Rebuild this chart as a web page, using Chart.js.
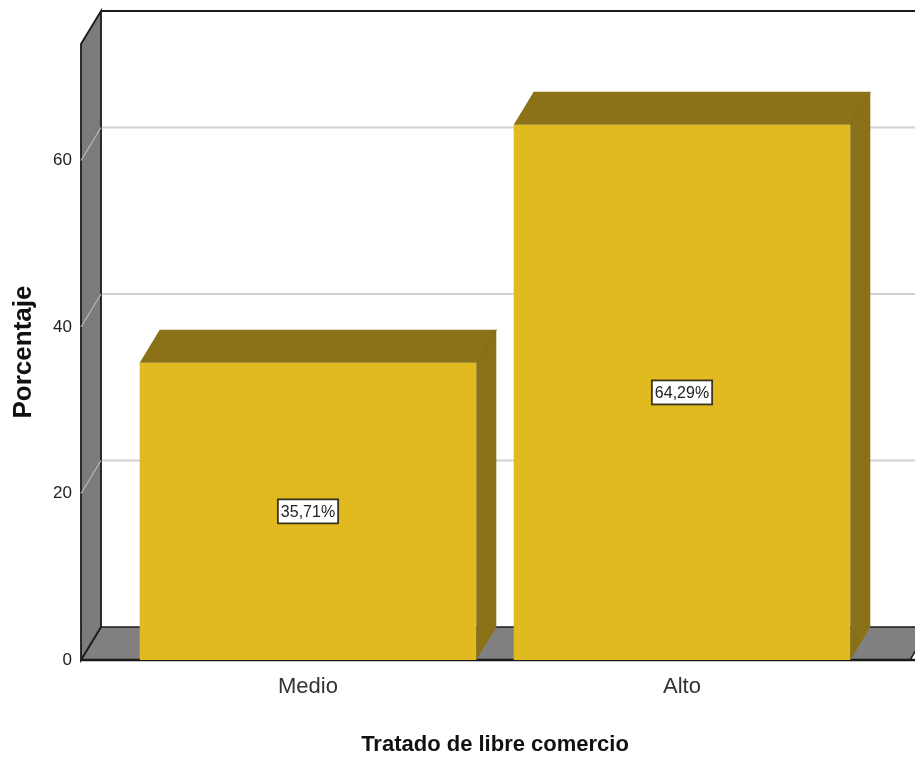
<!DOCTYPE html>
<html>
<head>
<meta charset="utf-8">
<script src="https://cdn.jsdelivr.net/npm/chart.js@4.4.1/dist/chart.umd.min.js"></script>
<style>
  html, body { margin: 0; padding: 0; background: #fff; overflow: hidden; }
  #wrap { width: 915px; height: 758px; }
</style>
</head>
<body>
<div id="wrap"><canvas id="chart"></canvas></div>
<script>
// datos
const categories = ['Medio', 'Alto'];
const percentages = [35.71, 64.29];
const yTicks = [0, 20, 40, 60];
const yMax = 74;

// colores
const barFront = '#E0BA1F';
const barTop = '#8B7218';
const barSide = '#8A7016';
const wallGray = '#7B7B7B';
const floorGray = '#808080';

// profundidad del efecto 3D
const DX = 20;
const DY = 33;
const WALL_OFFSET = 40; // pared izquierda respecto al área del gráfico

const fontFamily = 'Arial, "Liberation Sans", sans-serif';

// paredes, suelo y líneas de cuadrícula
const walls3d = {
  id: 'walls3d',
  beforeDatasetsDraw(chart) {
    const { ctx, chartArea, scales } = chart;
    const y = scales.y;
    const fx = chartArea.left - WALL_OFFSET;
    const bx = fx + DX;
    const yTopF = y.getPixelForValue(yMax);
    const y0 = y.getPixelForValue(0);
    const rightEdge = chart.width + 10;

    ctx.save();
    ctx.lineJoin = 'miter';

    // suelo
    ctx.beginPath();
    ctx.moveTo(fx, y0);
    ctx.lineTo(bx, y0 - DY);
    ctx.lineTo(rightEdge + 5, y0 - DY);
    ctx.lineTo(rightEdge - 15, y0);
    ctx.closePath();
    ctx.fillStyle = floorGray;
    ctx.fill();
    ctx.strokeStyle = '#1a1a1a';
    ctx.lineWidth = 1.5;
    ctx.stroke();
    ctx.beginPath();
    ctx.moveTo(fx, y0);
    ctx.lineTo(rightEdge, y0);
    ctx.lineWidth = 2.5;
    ctx.stroke();

    // pared izquierda
    ctx.beginPath();
    ctx.moveTo(fx, yTopF);
    ctx.lineTo(bx, yTopF - DY);
    ctx.lineTo(bx, y0 - DY);
    ctx.lineTo(fx, y0);
    ctx.closePath();
    ctx.fillStyle = wallGray;
    ctx.fill();
    ctx.lineWidth = 1.8;
    ctx.stroke();

    // borde superior de la pared del fondo
    ctx.beginPath();
    ctx.moveTo(bx, yTopF - DY);
    ctx.lineTo(rightEdge, yTopF - DY);
    ctx.stroke();

    // cuadrícula
    y.ticks.forEach(t => {
      if (t.value === 0) return;
      const py = y.getPixelForValue(t.value);
      ctx.beginPath();
      ctx.moveTo(fx, py);
      ctx.lineTo(bx, py - DY);
      ctx.strokeStyle = '#b8b8b8';
      ctx.lineWidth = 1.2;
      ctx.stroke();
      ctx.beginPath();
      ctx.moveTo(bx + 1, py - DY);
      ctx.lineTo(rightEdge, py - DY);
      ctx.strokeStyle = '#d2d2d2';
      ctx.lineWidth = 2;
      ctx.stroke();
    });
    ctx.restore();
  },
  afterDatasetsDraw(chart) {
    const { ctx } = chart;
    const meta = chart.getDatasetMeta(0);
    ctx.save();
    meta.data.forEach((bar, i) => {
      const half = bar.width / 2;
      const x0 = bar.x - half;
      const x1 = bar.x + half;
      const top = bar.y;
      const base = bar.base;

      // cara superior
      ctx.beginPath();
      ctx.moveTo(x0, top);
      ctx.lineTo(x0 + DX, top - DY);
      ctx.lineTo(x1 + DX, top - DY);
      ctx.lineTo(x1, top);
      ctx.closePath();
      ctx.fillStyle = barTop;
      ctx.fill();

      // cara lateral
      ctx.beginPath();
      ctx.moveTo(x1, top);
      ctx.lineTo(x1 + DX, top - DY);
      ctx.lineTo(x1 + DX, base - DY);
      ctx.lineTo(x1, base);
      ctx.closePath();
      ctx.fillStyle = barSide;
      ctx.fill();

      ctx.beginPath();
      ctx.moveTo(x1, top);
      ctx.lineTo(x1 + DX, top - DY);
      ctx.strokeStyle = '#7a6414';
      ctx.lineWidth = 1;
      ctx.stroke();

      // etiqueta del valor
      const txt = percentages[i].toFixed(2).replace('.', ',') + '%';
      ctx.font = '16px ' + fontFamily;
      const w = ctx.measureText(txt).width + 6;
      const h = 24;
      const cy = (top + base) / 2;
      ctx.fillStyle = '#ffffff';
      ctx.fillRect(bar.x - w / 2, cy - h / 2, w, h);
      ctx.strokeStyle = '#3b3420';
      ctx.lineWidth = 1.8;
      ctx.strokeRect(bar.x - w / 2, cy - h / 2, w, h);
      ctx.fillStyle = '#222';
      ctx.textAlign = 'center';
      ctx.textBaseline = 'middle';
      ctx.fillText(txt, bar.x, cy + 1);
    });
    ctx.restore();
  }
};

new Chart(document.getElementById('chart'), {
  type: 'bar',
  data: {
    labels: categories,
    datasets: [{
      data: percentages,
      backgroundColor: barFront,
      borderWidth: 0,
      categoryPercentage: 1,
      barPercentage: 0.9
    }]
  },
  options: {
    responsive: true,
    maintainAspectRatio: false,
    animation: false,
    layout: { padding: { top: 44, right: 46, bottom: 0, left: 0 } },
    plugins: {
      legend: { display: false },
      tooltip: { enabled: false }
    },
    scales: {
      x: {
        grid: { display: false, drawTicks: false },
        border: { display: false },
        ticks: {
          padding: 14,
          color: '#333',
          font: { family: fontFamily, size: 22 }
        },
        title: {
          display: true,
          text: 'Tratado de libre comercio',
          color: '#111',
          padding: { top: 0, bottom: 2 },
          font: { family: fontFamily, size: 22, weight: 'bold', lineHeight: 1 }
        },
        afterFit(scale) { scale.height = 98; }
      },
      y: {
        min: 0,
        max: yMax,
        grid: { display: false, drawTicks: false },
        border: { display: false },
        afterBuildTicks(scale) {
          scale.ticks = yTicks.map(v => ({ value: v }));
        },
        ticks: {
          padding: 49,
          color: '#222',
          font: { family: fontFamily, size: 17 }
        },
        title: {
          display: true,
          text: 'Porcentaje',
          color: '#111',
          padding: { top: 8, bottom: 0 },
          font: { family: fontFamily, size: 26, weight: 'bold' }
        },
        afterFit(scale) {
          scale.width = 121;
          scale.paddingTop = 0;
          scale.paddingBottom = 0;
        }
      }
    }
  },
  plugins: [walls3d]
});
</script>
</body>
</html>
